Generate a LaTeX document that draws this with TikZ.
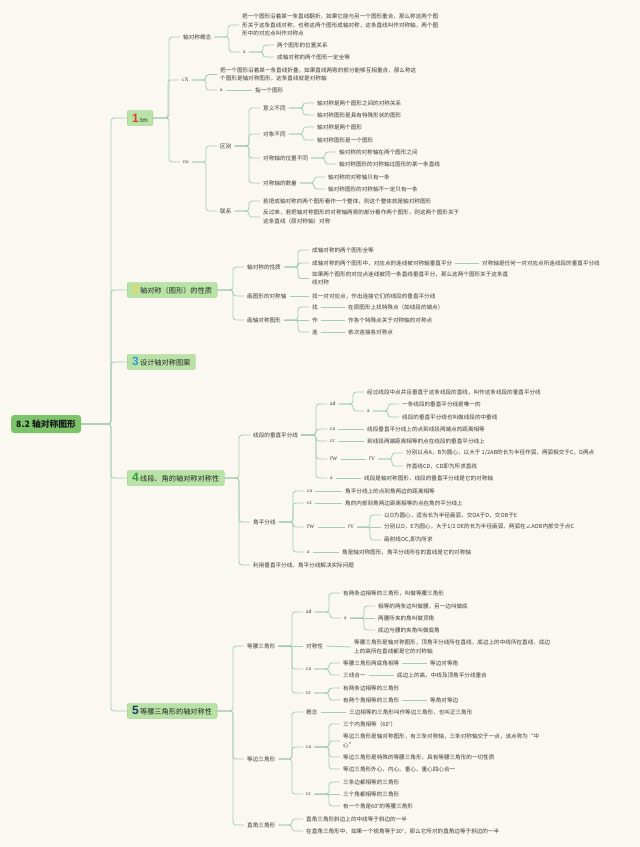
\documentclass[tikz,border=0pt]{standalone}
\usepackage{fontspec}
\setmainfont{Noto Sans CJK SC}
\newfontfamily\numfont{Liberation Sans}
\newfontfamily\tagfont{Liberation Serif}

\definecolor{bgcol}{HTML}{FBF8F1}
\definecolor{linecol}{HTML}{A3CDB0}
\definecolor{boxfill}{HTML}{B9E3A6}
\definecolor{boxline}{HTML}{92CA7F}
\definecolor{rootfill}{HTML}{7CC46A}
\definecolor{txt}{HTML}{3A3A3A}
\definecolor{nored}{HTML}{E53935}
\definecolor{noyellow}{HTML}{F2D04B}
\definecolor{noblue}{HTML}{2B9BD8}
\definecolor{nogreen}{HTML}{2E9E3A}
\definecolor{nonavy}{HTML}{1F3A66}

\newcommand\topicno[2]{{\numfont\bfseries\fontsize{12}{12}\selectfont\color{#1}#2}}

\begin{document}
\begin{tikzpicture}[
    x=1pt, y=-1pt,
    leaf/.style={anchor=west, xshift=-3pt, inner xsep=3pt, inner ysep=1pt, align=left, text=txt, font=\fontsize{5.6}{8.6}\selectfont},
    tag/.style={leaf, font=\tagfont\fontsize{5.6}{8.6}\selectfont},
    topic/.style={rectangle, rounded corners=2pt, draw=boxline, fill=boxfill, anchor=west, inner xsep=5pt, inner ysep=1pt, minimum height=15pt, text=black!85, font=\fontsize{7.2}{8}\selectfont},
    root/.style={rectangle, rounded corners=3pt, fill=rootfill, anchor=west, inner xsep=5pt, minimum height=18pt, text=black!90, font=\fontsize{8.8}{9}\selectfont\bfseries},
    link/.style={draw=linecol, line width=0.8pt, rounded corners=3pt}
]

% Background
\fill[bgcol] (0,0) rectangle (640,847);
\useasboundingbox (0,0) rectangle (640,847);

% Root
\node[root] (root) at (11,424) {8.2 轴对称图形};

% Main topics
\node[topic] (t1) at (127,118) {\topicno{nored}{1}\,{\fontsize{6}{7}\selectfont tm}};
\node[topic] (t2) at (127,290) {\topicno{noyellow}{2}\,轴对称（图形）的性质};
\node[topic] (t3) at (127,362) {\topicno{noblue}{3}\,设计轴对称图案};
\node[topic] (t4) at (127,478) {\topicno{nogreen}{4}\,线段、角的轴对称对称性};
\node[topic] (t5) at (127,711) {\topicno{nonavy}{5}\,等腰三角形的轴对称性};

\foreach \t in {t1,t2,t3,t4,t5}
    \draw[link] (\t.west) -- ++(-16,0) |- (root.east);

% Topic 1
\node[leaf] (gn) at (183,37) {轴对称概念};
\node[leaf] (gndef) at (242,25) {把一个图形沿着某一条直线翻折，如果它能与另一个图形重合，那么称这两个图\\形关于这条直线对称，也称这两个图形成轴对称，这条直线叫作对称轴，两个图\\形中的对应点叫作对称点};
\node[tag] (gna) at (243,52) {a};
\node[leaf] (gna1) at (277,45) {两个图形的位置关系};
\node[leaf] (gna2) at (277,57) {成轴对称的两个图形一定全等};

\node[tag] (cx) at (182,80) {cX};
\node[leaf] (cxdef) at (220,74.5) {把一个图形沿着某一条直线折叠，如果直线两旁的部分能够互相重合，那么称这\\个图形是轴对称图形，这条直线就是对称轴};
\node[tag] (cxa) at (220,90) {a};
\node[leaf] (cxa1) at (255,90) {指一个图形};

\node[tag] (nx) at (183,162) {nx};
\node[leaf] (qb) at (220,146) {区别};
\node[leaf] (qb1) at (263,108) {意义不同};
\node[leaf] (qb1a) at (317,103) {轴对称是两个图形之间的对称关系};
\node[leaf] (qb1b) at (317,115) {轴对称图形是具有特殊形状的图形};
\node[leaf] (qb2) at (263,134) {对象不同};
\node[leaf] (qb2a) at (317,127) {轴对称是两个图形};
\node[leaf] (qb2b) at (317,140) {轴对称图形是一个图形};
\node[leaf] (qb3) at (263,158) {对称轴的位置不同};
\node[leaf] (qb3a) at (339,152) {轴对称的对称轴在两个图形之间};
\node[leaf] (qb3b) at (339,164) {轴对称图形的对称轴过图形的某一条直线};
\node[leaf] (qb4) at (263,183) {对称轴的数量};
\node[leaf] (qb4a) at (328,177) {轴对称的对称轴只有一条};
\node[leaf] (qb4b) at (328,189) {轴对称图形的对称轴不一定只有一条};
\node[leaf] (lx) at (220,211) {联系};
\node[leaf] (lx1) at (263,201) {若把成轴对称的两个图形看作一个整体，则这个整体就是轴对称图形};
\node[leaf] (lx2) at (263,217) {反过来，若把轴对称图形的对称轴两旁的部分看作两个图形，则这两个图形关于\\这条直线（原对称轴）对称};

\foreach \c in {gn,cx,nx} \draw[link] (\c.west) -- ++(-11,0) |- (t1.east);
\foreach \c in {gndef,gna} \draw[link] (\c.west) -- ++(-11,0) |- (gn.east);
\foreach \c in {gna1,gna2} \draw[link] (\c.west) -- ++(-11,0) |- (gna.east);
\foreach \c in {cxdef,cxa} \draw[link] (\c.west) -- ++(-11,0) |- (cx.east);
\draw[link] (cxa.east) -- (cxa1.west);
\foreach \c in {qb,lx} \draw[link] (\c.west) -- ++(-11,0) |- (nx.east);
\foreach \c in {qb1,qb2,qb3,qb4} \draw[link] (\c.west) -- ++(-11,0) |- (qb.east);
\foreach \c in {qb1a,qb1b} \draw[link] (\c.west) -- ++(-11,0) |- (qb1.east);
\foreach \c in {qb2a,qb2b} \draw[link] (\c.west) -- ++(-11,0) |- (qb2.east);
\foreach \c in {qb3a,qb3b} \draw[link] (\c.west) -- ++(-11,0) |- (qb3.east);
\foreach \c in {qb4a,qb4b} \draw[link] (\c.west) -- ++(-11,0) |- (qb4.east);
\foreach \c in {lx1,lx2} \draw[link] (\c.west) -- ++(-11,0) |- (lx.east);

% Topic 2
\node[leaf] (xz) at (247,267) {轴对称的性质};
\node[leaf] (xz1) at (312,250) {成轴对称的两个图形全等};
\node[leaf] (xz2) at (312,263) {成轴对称的两个图形中，对应点的连线被对称轴垂直平分};
\node[leaf] (xz2a) at (482,263) {对称轴是任何一对对应点所连线段的垂直平分线};
\node[leaf] (xz3) at (312,278.5) {如果两个图形的对应点连线被同一条直线垂直平分，那么这两个图形关于这条直\\线对称};
\node[leaf] (hz) at (247,296) {画图形的对称轴};
\node[leaf] (hz1) at (312,296) {找一对对应点，作出连接它们的线段的垂直平分线};
\node[leaf] (hx) at (247,320) {画轴对称图形};
\node[leaf] (hx1) at (312,307) {找};
\node[leaf] (hx1a) at (348,307) {在原图形上找特殊点（如线段的端点）};
\node[leaf] (hx2) at (312,320) {作};
\node[leaf] (hx2a) at (348,320) {作各个特殊点关于对称轴的对称点};
\node[leaf] (hx3) at (312,332) {连};
\node[leaf] (hx3a) at (348,332) {依次连接各对称点};

\foreach \c in {xz,hz,hx} \draw[link] (\c.west) -- ++(-11,0) |- (t2.east);
\foreach \c in {xz1,xz2,xz3} \draw[link] (\c.west) -- ++(-11,0) |- (xz.east);
\draw[link] (xz2.east) -- (xz2a.west);
\draw[link] (hz.east) -- (hz1.west);
\foreach \c in {hx1,hx3} \draw[link] (\c.west) -- ++(-11,0) |- (hx.east);
\draw[link] (hx.east) -- (hx2.west);
\draw[link] (hx1.east) -- (hx1a.west);
\draw[link] (hx2.east) -- (hx2a.west);
\draw[link] (hx3.east) -- (hx3a.west);

% Topic 4
\node[leaf] (cz) at (253,435) {线段的垂直平分线};
\node[tag] (cz1) at (330,404) {ad};
\node[leaf] (cz1a) at (367,392) {经过线段中点并且垂直于这条线段的直线，叫作这条线段的垂直平分线};
\node[tag] (cz1b) at (367,411) {a};
\node[leaf] (cz1b1) at (402,404) {一条线段的垂直平分线是唯一的};
\node[leaf] (cz1b2) at (402,417) {线段的垂直平分线也叫做线段的中垂线};
\node[tag] (cz2) at (330,429) {ca};
\node[leaf] (cz2a) at (367,429) {线段垂直平分线上的点到线段两端点的距离相等};
\node[tag] (cz3) at (330,441) {cc};
\node[leaf] (cz3a) at (367,441) {到线段两端距离相等的点在线段的垂直平分线上};
\node[tag] (cz4) at (330,459) {fW};
\node[tag] (cz4a) at (369,459) {fV};
\node[leaf] (cz4a1) at (406,453) {分别以点A，B为圆心，以大于 1/2AB的长为半径作弧，两弧相交于C，D两点};
\node[leaf] (cz4a2) at (406,466) {作直线CD，CD即为所求直线};
\node[tag] (cz5) at (330,478) {a};
\node[leaf] (cz5a) at (364,478) {线段是轴对称图形，线段的垂直平分线是它的对称轴};

\node[leaf] (jp) at (253,522) {角平分线};
\node[tag] (jp1) at (307,491) {ca};
\node[leaf] (jp1a) at (345,491) {角平分线上的点到角两边的距离相等};
\node[tag] (jp2) at (307,503) {cc};
\node[leaf] (jp2a) at (345,503) {角的内部到角两边距离相等的点在角的平分线上};
\node[tag] (jp3) at (307,527) {fW};
\node[tag] (jp3a) at (348,527) {fV};
\node[leaf] (jp3a1) at (384,515) {以O为圆心，适当长为半径画弧，交OA于D，交OB于E};
\node[leaf] (jp3a2) at (384,527) {分别以D，E为圆心，大于1/2 DE的长为半径画弧，两弧在∠AOB内部交于点C};
\node[leaf] (jp3a3) at (384,540) {画射线OC,即为所求};
\node[tag] (jp4) at (307,552) {a};
\node[leaf] (jp4a) at (342,552) {角是轴对称图形，角平分线所在的直线是它的对称轴};
\node[leaf] (sj) at (253,565) {利用垂直平分线、角平分线解决实际问题};

\foreach \c in {cz,jp,sj} \draw[link] (\c.west) -- ++(-11,0) |- (t4.east);
\foreach \c in {cz1,cz2,cz3,cz4,cz5} \draw[link] (\c.west) -- ++(-11,0) |- (cz.east);
\foreach \c in {cz1a,cz1b} \draw[link] (\c.west) -- ++(-11,0) |- (cz1.east);
\foreach \c in {cz1b1,cz1b2} \draw[link] (\c.west) -- ++(-11,0) |- (cz1b.east);
\draw[link] (cz2.east) -- (cz2a.west);
\draw[link] (cz3.east) -- (cz3a.west);
\draw[link] (cz4.east) -- (cz4a.west);
\foreach \c in {cz4a1,cz4a2} \draw[link] (\c.west) -- ++(-11,0) |- (cz4a.east);
\draw[link] (cz5.east) -- (cz5a.west);
\foreach \c in {jp1,jp2,jp3,jp4} \draw[link] (\c.west) -- ++(-11,0) |- (jp.east);
\draw[link] (jp1.east) -- (jp1a.west);
\draw[link] (jp2.east) -- (jp2a.west);
\draw[link] (jp3.east) -- (jp3a.west);
\foreach \c in {jp3a1,jp3a3} \draw[link] (\c.west) -- ++(-11,0) |- (jp3a.east);
\draw[link] (jp3a.east) -- (jp3a2.west);
\draw[link] (jp4.east) -- (jp4a.west);

% Topic 5
\node[leaf] (dy) at (247,646) {等腰三角形};
\node[tag] (dy1) at (306,612) {ad};
\node[leaf] (dy1a) at (343,593) {有两条边相等的三角形，叫做等腰三角形};
\node[tag] (dy1b) at (344,618) {a};
\node[leaf] (dy1b1) at (378,606) {相等的两条边叫做腰，另一边叫做底};
\node[leaf] (dy1b2) at (378,618) {两腰所夹的角叫做顶角};
\node[leaf] (dy1b3) at (378,630) {底边与腰的夹角叫做底角};
\node[leaf] (dy2) at (306,646) {对称性};
\node[leaf] (dy2a) at (354,647) {等腰三角形是轴对称图形，顶角平分线所在直线，底边上的中线所在直线，底边\\上的高所在直线都是它的对称轴};
\node[tag] (dy3) at (306,669) {ca};
\node[leaf] (dy3a) at (343,663) {等腰三角形两底角相等};
\node[leaf] (dy3a1) at (430,663) {等边对等角};
\node[leaf] (dy3b) at (343,675) {三线合一};
\node[leaf] (dy3b1) at (397,675) {底边上的高，中线及顶角平分线重合};
\node[tag] (dy4) at (306,693) {cc};
\node[leaf] (dy4a) at (343,688) {有两条边相等的三角形};
\node[leaf] (dy4b) at (343,700) {有两个角相等的三角形};
\node[leaf] (dy4b1) at (430,700) {等角对等边};

\node[leaf] (db) at (247,759) {等边三角形};
\node[leaf] (db1) at (306,712) {概念};
\node[leaf] (db1a) at (349,712) {三边相等的三角形叫作等边三角形，也叫正三角形};
\node[tag] (db2) at (306,747) {ca};
\node[leaf] (db2a) at (343,724) {三个内角相等（60°）};
\node[leaf] (db2b) at (343,741) {等边三角形是轴对称图形，有三条对称轴，三条对称轴交于一点，该点称为“中\\心”};
\node[leaf] (db2c) at (343,757) {等边三角形是特殊的等腰三角形，具有等腰三角形的一切性质};
\node[leaf] (db2d) at (343,769) {等边三角形外心、内心、垂心、重心四心合一};
\node[tag] (db3) at (306,794) {cc};
\node[leaf] (db3a) at (343,782) {三条边都相等的三角形};
\node[leaf] (db3b) at (343,794) {三个角都相等的三角形};
\node[leaf] (db3c) at (343,806) {有一个角是60°的等腰三角形};

\node[leaf] (zj) at (247,825) {直角三角形};
\node[leaf] (zj1) at (306,819) {直角三角形斜边上的中线等于斜边的一半};
\node[leaf] (zj2) at (306,831) {在直角三角形中，如果一个锐角等于30°，那么它所对的直角边等于斜边的一半};

\foreach \c in {dy,db,zj} \draw[link] (\c.west) -- ++(-11,0) |- (t5.east);
\foreach \c in {dy1,dy3,dy4} \draw[link] (\c.west) -- ++(-11,0) |- (dy.east);
\draw[link] (dy.east) -- (dy2.west);
\foreach \c in {dy1a,dy1b} \draw[link] (\c.west) -- ++(-11,0) |- (dy1.east);
\foreach \c in {dy1b1,dy1b3} \draw[link] (\c.west) -- ++(-11,0) |- (dy1b.east);
\draw[link] (dy1b.east) -- (dy1b2.west);
\draw[link] (dy2.east) -- (dy2a.west);
\foreach \c in {dy3a,dy3b} \draw[link] (\c.west) -- ++(-11,0) |- (dy3.east);
\draw[link] (dy3a.east) -- (dy3a1.west);
\draw[link] (dy3b.east) -- (dy3b1.west);
\foreach \c in {dy4a,dy4b} \draw[link] (\c.west) -- ++(-11,0) |- (dy4.east);
\draw[link] (dy4b.east) -- (dy4b1.west);
\foreach \c in {db1,db2,db3} \draw[link] (\c.west) -- ++(-11,0) |- (db.east);
\draw[link] (db1.east) -- (db1a.west);
\foreach \c in {db2a,db2b,db2c,db2d} \draw[link] (\c.west) -- ++(-11,0) |- (db2.east);
\foreach \c in {db3a,db3c} \draw[link] (\c.west) -- ++(-11,0) |- (db3.east);
\draw[link] (db3.east) -- (db3b.west);
\foreach \c in {zj1,zj2} \draw[link] (\c.west) -- ++(-11,0) |- (zj.east);

\end{tikzpicture}
\end{document}
